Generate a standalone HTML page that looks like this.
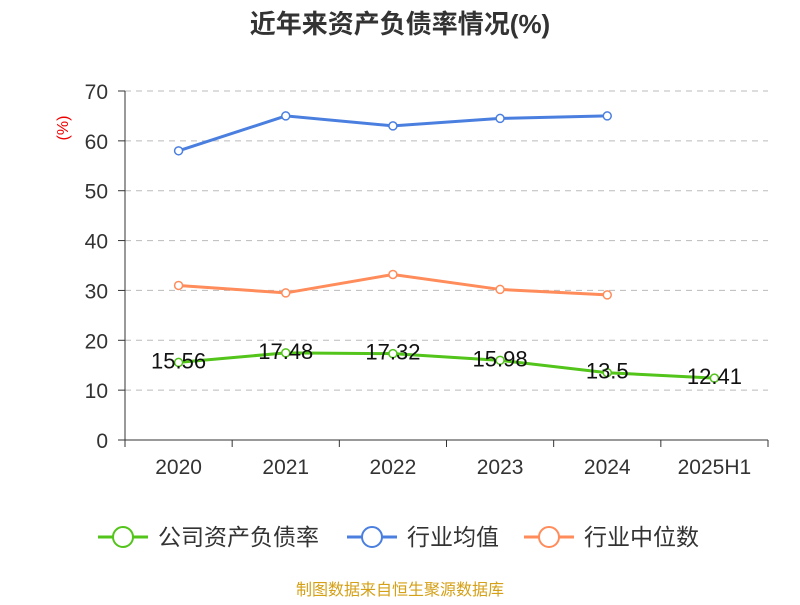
<!DOCTYPE html>
<html><head><meta charset="utf-8"><style>
body{margin:0;background:#fff;font-family:"Liberation Sans","Noto Sans CJK SC",sans-serif;}
</style></head><body>
<svg id="chart" width="800" height="600" xmlns="http://www.w3.org/2000/svg" font-family="Liberation Sans, Noto Sans CJK SC, sans-serif">
<text x="400" y="33" text-anchor="middle" font-size="26" font-weight="bold" fill="#333">近年来资产负债率情况(%)</text>
<text x="68" y="128" text-anchor="middle" font-size="16" fill="#e00" transform="rotate(-90 68 128)">(%)</text>
<g id="grid"></g><g id="axes"></g><g id="series"></g>
<g>
<g><line x1="98" y1="537" x2="148" y2="537" stroke="#52c41a" stroke-width="3"/><circle cx="123" cy="537" r="10" fill="#fff" stroke="#52c41a" stroke-width="2"/><text x="158" y="545" font-size="23" fill="#333">公司资产负债率</text></g>
<g><line x1="347" y1="537" x2="397" y2="537" stroke="#4a7fe0" stroke-width="3"/><circle cx="372" cy="537" r="10" fill="#fff" stroke="#4a7fe0" stroke-width="2"/><text x="407" y="545" font-size="23" fill="#333">行业均值</text></g>
<g><line x1="524" y1="537" x2="574" y2="537" stroke="#ff8c5a" stroke-width="3"/><circle cx="549" cy="537" r="10" fill="#fff" stroke="#ff8c5a" stroke-width="2"/><text x="584" y="545" font-size="23" fill="#333">行业中位数</text></g>
</g>
<text x="400" y="595" text-anchor="middle" font-size="16" fill="#d4a017">制图数据来自恒生聚源数据库</text>
</svg>
<script>
const categories=["2020","2021","2022","2023","2024","2025H1"];
const companyValues=[15.56,17.48,17.32,15.98,13.5,12.41];
const avgValues=[58,65,63,64.5,65];
const medianValues=[31,29.5,33.2,30.2,29.1];
const yTicks=[0,10,20,30,40,50,60,70];
const NS="http://www.w3.org/2000/svg";
const x0=125,x1=768,yTop=91,yBot=440,yMax=70;
const bw=(x1-x0)/categories.length;
const xs=i=>x0+bw*(i+0.5);
const ys=v=>yBot-(v/yMax)*(yBot-yTop);
function mk(t,a,p){const e=document.createElementNS(NS,t);for(const k in a)e.setAttribute(k,a[k]);p.appendChild(e);return e;}
const grid=document.getElementById('grid'),axes=document.getElementById('axes'),ser=document.getElementById('series');
yTicks.forEach(v=>{
 if(v>0){const g=mk('line',{x1:x0,x2:x1,y1:ys(v),y2:ys(v),stroke:'#bbb','stroke-dasharray':'6,5'},grid);
 
 }
 const t=mk('line',{x1:x0-7,x2:x0,y1:ys(v),y2:ys(v),stroke:'#333'},axes);
 
 
 const l=mk('text',{x:x0-17,y:ys(v)+8,'text-anchor':'end','font-size':21,fill:'#333'},axes);l.textContent=v;
 
 
});
const ya=mk('line',{x1:x0,x2:x0,y1:yTop,y2:yBot,stroke:'#333'},axes);


const xa=mk('line',{x1:x0,x2:x1,y1:yBot,y2:yBot,stroke:'#333'},axes);


for(let i=0;i<=categories.length;i++){const t=mk('line',{x1:x0+bw*i,x2:x0+bw*i,y1:yBot,y2:yBot+7,stroke:'#333'},axes);
 
 }
categories.forEach((c,i)=>{const l=mk('text',{x:xs(i),y:474,'text-anchor':'middle','font-size':21,fill:'#333'},axes);l.textContent=c;
 
 });
function line(vals,color,name,labels){
 const p=mk('polyline',{points:vals.map((v,i)=>xs(i)+','+ys(v)).join(' '),fill:'none',stroke:color,'stroke-width':3},ser);
 
 
 vals.forEach((v,i)=>{const c=mk('circle',{cx:xs(i),cy:ys(v),r:4,fill:'#fff',stroke:color,'stroke-width':1.5},ser);
  
  
  if(labels){const t=mk('text',{x:xs(i),y:ys(v)+6,'text-anchor':'middle','font-size':22,fill:'#111'},ser);t.textContent=v;
   
   }
 });
}
line(avgValues,'#4a7fe0','industry-avg',false);
line(medianValues,'#ff8c5a','industry-median',false);
line(companyValues,'#52c41a','company',true);
</script>
</body></html>
